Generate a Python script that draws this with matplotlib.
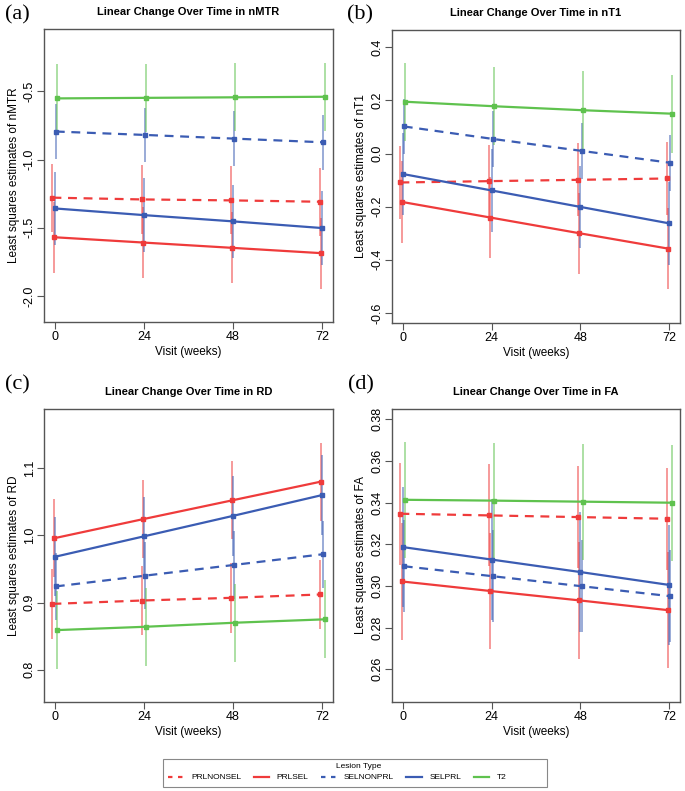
import numpy as np
import matplotlib
matplotlib.use("Agg")
import matplotlib.pyplot as plt
from matplotlib.lines import Line2D
from matplotlib.patches import Rectangle

plt.rcParams['font.family'] = ['Liberation Sans', 'DejaVu Sans']

weeks = [0, 24, 48, 72]
groups = ["PRLNONSEL", "PRLSEL", "SELNONPRL", "SELPRL", "T2"]
colors = {"PRLNONSEL": "#ef3b3b", "PRLSEL": "#ef3b3b",
          "SELNONPRL": "#3b5cb3", "SELPRL": "#3b5cb3", "T2": "#5fc24e"}
styles = {"PRLNONSEL": (0, (4, 3)), "PRLSEL": "-",
          "SELNONPRL": (0, (4, 3)), "SELPRL": "-", "T2": "-"}
leg_styles = {"PRLNONSEL": (0, (2, 2.5)), "PRLSEL": "-",
              "SELNONPRL": (0, (2, 2.5)), "SELPRL": "-", "T2": "-"}
dodge = {"PRLNONSEL": -0.6, "PRLSEL": -0.3, "SELNONPRL": 0.3,
         "SELPRL": 0.0, "T2": 0.6}

# nMTR
nmtr_mean = {
    "PRLNONSEL": [-1.279, -1.292, -1.299, -1.309],
    "PRLSEL": [-1.569, -1.608, -1.647, -1.686],
    "SELNONPRL": [-0.794, -0.819, -0.846, -0.873],
    "SELPRL": [-1.358, -1.407, -1.453, -1.502],
    "T2": [-0.551, -0.547, -0.543, -0.539],
}
nmtr_err = {"PRLNONSEL": 0.25, "PRLSEL": 0.26, "SELNONPRL": 0.2,
            "SELPRL": 0.27, "T2": 0.25}

# nT1
nt1_mean = {
    "PRLNONSEL": [-0.109, -0.104, -0.099, -0.094],
    "PRLSEL": [-0.182, -0.241, -0.300, -0.358],
    "SELNONPRL": [0.102, 0.055, 0.010, -0.035],
    "SELPRL": [-0.077, -0.139, -0.201, -0.263],
    "T2": [0.195, 0.178, 0.163, 0.150],
}
nt1_err = {"PRLNONSEL": 0.137, "PRLSEL": 0.153, "SELNONPRL": 0.105,
           "SELPRL": 0.155, "T2": 0.147}

# RD
rd_mean = {
    "PRLNONSEL": [0.898, 0.903, 0.907, 0.912],
    "PRLSEL": [0.9955, 1.024, 1.052, 1.080],
    "SELNONPRL": [0.924, 0.940, 0.956, 0.972],
    "SELPRL": [0.968, 0.9985, 1.029, 1.060],
    "T2": [0.859, 0.864, 0.870, 0.875],
}
rd_err = {"PRLNONSEL": 0.052, "PRLSEL": 0.058, "SELNONPRL": 0.05,
          "SELPRL": 0.059, "T2": 0.058}

# FA
fa_mean = {
    "PRLNONSEL": [0.3347, 0.3339, 0.3331, 0.3323],
    "PRLSEL": [0.3022, 0.2976, 0.2931, 0.2884],
    "SELNONPRL": [0.3095, 0.3047, 0.2999, 0.2951],
    "SELPRL": [0.3187, 0.3127, 0.3067, 0.3005],
    "T2": [0.3414, 0.3410, 0.3405, 0.3400],
}
fa_err = {"PRLNONSEL": 0.0245, "PRLSEL": 0.028, "SELNONPRL": 0.022,
          "SELPRL": 0.029, "T2": 0.0278}

panels = [
    ("(a)", "nMTR", nmtr_mean, nmtr_err, (-2.191, -0.042), [-2.0, -1.5, -1.0, -0.5], "%.1f"),
    ("(b)", "nT1", nt1_mean, nt1_err, (-0.638, 0.465), [-0.6, -0.4, -0.2, 0.0, 0.2, 0.4], "%.1f"),
    ("(c)", "RD", rd_mean, rd_err, (0.752, 1.188), [0.8, 0.9, 1.0, 1.1], "%.1f"),
    ("(d)", "FA", fa_mean, fa_err, (0.2443, 0.385), [0.26, 0.28, 0.30, 0.32, 0.34, 0.36, 0.38], "%.2f"),
]

# axes rects in pixels (left, top, right, bottom) of a 685x791 canvas
W, H = 685, 791
rects = [(44, 29, 333, 322), (392, 30, 680, 323), (44, 409, 333, 702), (392, 409, 680, 702)]
label_pos = [(5, 15), (347, 15), (5, 385), (348, 385)]

fig = plt.figure(figsize=(6.85, 7.91), dpi=100)
boxc = "#555555"

for (lab, name, means, errs, ylim, yt, fmt), (l, t, r, b), (lx, ly) in zip(panels, rects, label_pos):
    ax = fig.add_axes([l / W, 1 - b / H, (r - l) / W, (b - t) / H])
    for g in groups:
        x = np.array(weeks) + dodge[g]
        y = np.array(means[g])
        ax.errorbar(x, y, yerr=errs[g], fmt="none", ecolor=colors[g],
                    elinewidth=1.2, alpha=0.6, capsize=0, zorder=2)
    for g in groups:
        x = np.array(weeks) + dodge[g]
        y = np.array(means[g])
        ax.plot(x, y, color=colors[g], linestyle=styles[g], lw=1.6, zorder=3)
        ax.plot(x, y, "s", color=colors[g], ms=3, zorder=4)
    ax.set_xlim(-2.88, 74.88)
    ax.set_ylim(*ylim)
    ax.set_xticks(weeks)
    ax.set_yticks(yt)
    ax.set_yticklabels([fmt % v for v in yt], rotation=90, va="center")
    ax.tick_params(direction="out", length=5, width=0.8, color=boxc,
                   labelsize=9)
    ax.tick_params(axis="x", pad=1.5)
    ax.tick_params(axis="y", pad=1)
    for s in ax.spines.values():
        s.set_color(boxc)
        s.set_linewidth(1.0)
    ax.set_xlabel("Visit (weeks)", fontsize=8.5, labelpad=2)
    ax.set_ylabel("Least squares estimates of " + name, fontsize=8.5, labelpad=3)
    ax.set_title("Linear Change Over Time in " + name, fontsize=8,
                 fontweight="bold", pad=10)
    fig.text(lx / W, 1 - ly / H, lab, fontsize=16,
             family=["Liberation Serif", "DejaVu Serif"], ha="left", va="center")

# legend: box drawn separately so it can be wider than the entries, like R
fig.patches.append(Rectangle((163 / W, 1 - 787 / H), (547 - 163) / W, 28 / H,
                             transform=fig.transFigure, fill=False,
                             edgecolor="#888888", lw=0.8))
fig.text(359 / W, 1 - 766 / H, "Lesion Type", fontsize=6, ha="center", va="center")
handles = [Line2D([0], [0], color=colors[g], linestyle=leg_styles[g], lw=1.6) for g in groups]
leg = fig.legend(handles, groups, loc="center left", ncol=5,
                 bbox_to_anchor=(168 / W, 1 - 777.5 / H), fontsize=6,
                 frameon=False, handlelength=1.9, columnspacing=1.5,
                 borderpad=0, borderaxespad=0, handletextpad=0.85)

fig.savefig("out.png", dpi=100)
